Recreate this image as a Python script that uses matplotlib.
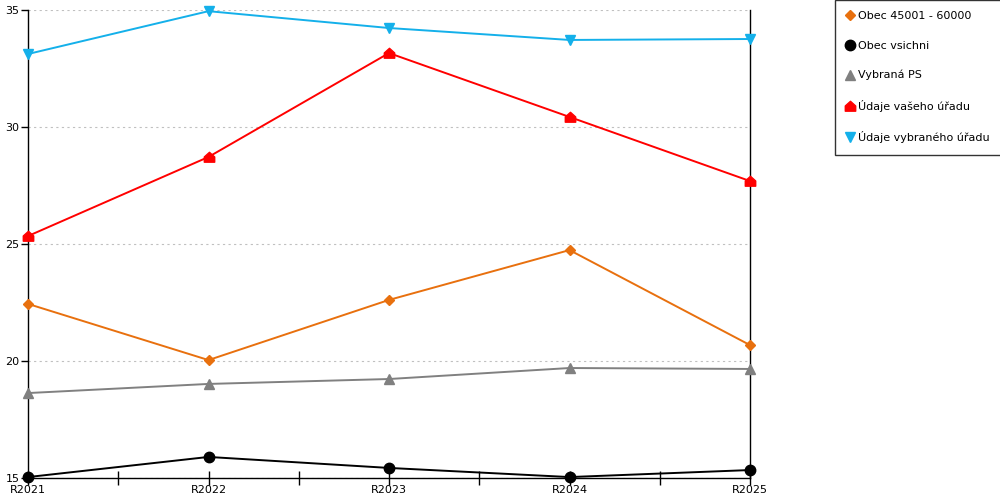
import numpy as np
import matplotlib
matplotlib.use('Agg')
import matplotlib.pyplot as plt
from matplotlib.path import Path

years = ['R2021', 'R2022', 'R2023', 'R2024', 'R2025']

obec_45001 = [22.44, 20.04, 22.61, 24.74, 20.68]
obec_vsichni = [15.04, 15.90, 15.43, 15.04, 15.34]
vybrana_ps = [18.63, 19.02, 19.23, 19.70, 19.66]
vas_urad = [25.34, 28.72, 33.16, 30.43, 27.69]
vybrany_urad = [33.12, 34.95, 34.23, 33.72, 33.76]

labels = ['Obec 45001 - 60000', 'Obec vsichni', 'Vybraná PS',
          'Údaje vašeho úřadu', 'Údaje vybraného úřadu']

# house shaped marker (square with roof)
house = Path([(-1, -0.9), (1, -0.9), (1, 0.1), (0, 1), (-1, 0.1), (-1, -0.9)],
             [Path.MOVETO, Path.LINETO, Path.LINETO, Path.LINETO, Path.LINETO, Path.CLOSEPOLY])

plt.rcParams['font.family'] = ['DejaVu Sans']

fig = plt.figure(figsize=(10, 5), dpi=100, facecolor='w')
ax = fig.add_axes([0.028, 0.044, 0.722, 0.936])

x = np.arange(len(years))
series = [
    (obec_45001, '#e8700e', 'D', 5.5),
    (obec_vsichni, '#000000', 'o', 7.5),
    (vybrana_ps, '#808080', '^', 7),
    (vas_urad, '#ff0000', house, 7.5),
    (vybrany_urad, '#14b0ea', 'v', 7),
]
for (vals, col, mk, ms), lab in zip(series, labels):
    ax.plot(x, vals, color=col, lw=1.4, marker=mk, ms=ms, mec=col, mfc=col,
            label=lab, clip_on=False, zorder=3)

ax.set_xlim(0, 4)
ax.set_ylim(15, 35)
ax.set_xticks(x)
ax.set_xticklabels(years)
ax.set_xticks(np.arange(0.5, 4, 1), minor=True)
ax.set_yticks([15, 20, 25, 30, 35])
ax.tick_params(axis='x', which='both', direction='inout', length=10, width=1, labelsize=8, pad=0)
ax.tick_params(axis='y', direction='out', length=5, width=1, labelsize=8, pad=1)
ax.grid(axis='y', color='#c0c0c0', ls=(0, (2, 3)), lw=0.8)
ax.spines['top'].set_visible(False)
for s in ('left', 'bottom', 'right'):
    ax.spines[s].set_color('black')
    ax.spines[s].set_linewidth(1)

leg = fig.legend(loc='upper left', bbox_to_anchor=(0.835, 1.0), fontsize=8,
                 frameon=True, fancybox=False, edgecolor='black', labelspacing=1.75,
                 handlelength=0.7, handletextpad=0.4, borderpad=1.0, borderaxespad=0)
for h in leg.get_lines():
    h.set_linestyle('none')
leg.get_frame().set_linewidth(1)

fig.savefig('out.png', dpi=100)
